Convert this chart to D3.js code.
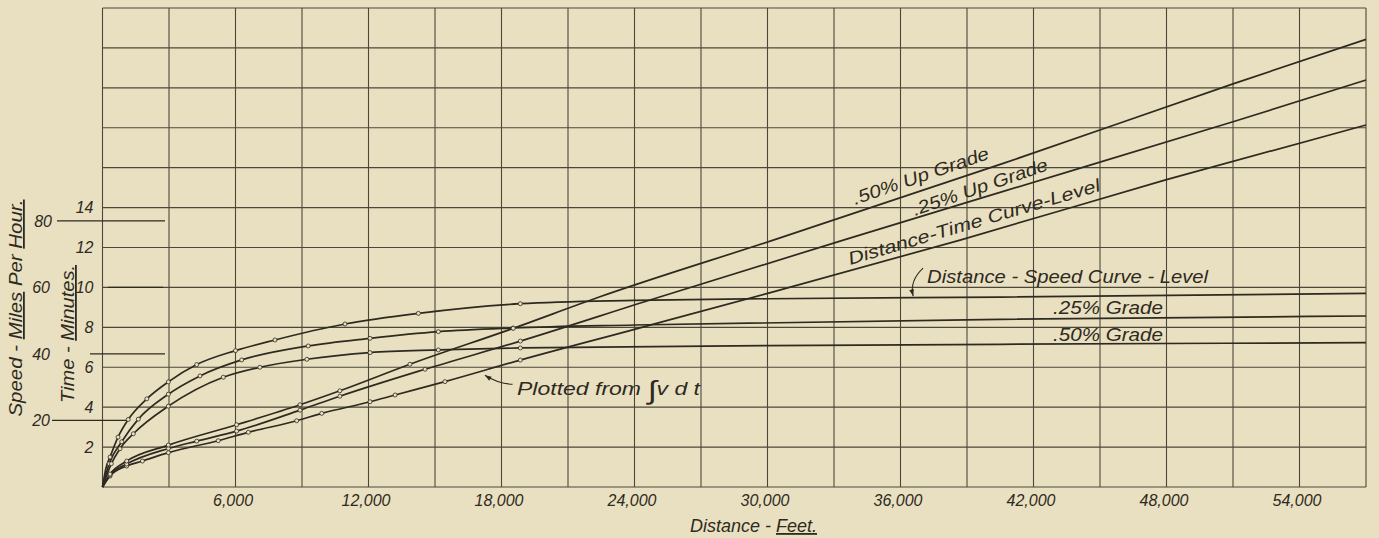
<!DOCTYPE html>
<html><head><meta charset="utf-8">
<script src="https://cdn.jsdelivr.net/npm/d3@7"></script>
<style>
html,body{margin:0;padding:0;background:#e9e0c2;}
svg{display:block;}
text{font-family:"Liberation Sans","DejaVu Sans",sans-serif;font-style:italic;fill:#2e2a20;}
</style></head>
<body>
<svg id="chart" width="1379" height="538"></svg>
<script>
// ---- data (distance in feet, time in minutes, speed in mph) ----
const xTickValues = [6000,12000,18000,24000,30000,36000,42000,48000,54000];
const xTickLabels = ["6,000","12,000","18,000","24,000","30,000","36,000","42,000","48,000","54,000"];
const timeTickValues = [2,4,6,8,10,12,14];
const timeTickLabels = ["2","4","6","8","10","12","14"];
const speedTickValues = [20,40,60,80];
const speedTickLabels = ["20","40","60","80"];

const speedLevel = [[0,0],[150,5.5],[340,9],[700,15],[1160,20.3],[2000,26.5],[2970,31.6],[4250,36.8],[6000,41],[7780,44.2],[10940,49],[14250,52.2],[18850,55.1],[24000,56.1],[30000,56.6],[40500,57.1],[57000,58.2]];
const speed25 = [[0,0],[300,7],[866,13.6],[1615,20.4],[2970,27.9],[4400,33.4],[6280,38.2],[9280,42.4],[12070,44.7],[15150,46.7],[18520,47.8],[24000,48.7],[40500,50.4],[57000,51.4]];
const speed50 = [[0,0],[400,7],[790,11.5],[1390,16],[2970,24.3],[5450,33],[7100,36],[9220,38.4],[12070,40.4],[15150,41.2],[18850,41.8],[30000,42.5],[40500,42.9],[57000,43.4]];

const timeLevel = [[0,0],[340,0.55],[1090,1.05],[1800,1.3],[2970,1.72],[5220,2.32],[6580,2.74],[8760,3.32],[9890,3.69],[12070,4.27],[13200,4.61],[15450,5.28],[18850,6.36],[24000,7.9],[30000,9.7],[38690,12.37],[48000,15.4],[57000,18.14]];
const time25Up = [[0,0],[340,0.6],[1090,1.15],[2970,1.93],[4250,2.3],[6050,2.8],[8910,3.85],[10710,4.55],[14550,5.9],[18850,7.31],[24700,9.37],[33420,12.37],[40600,14.8],[51000,18.3],[57000,20.39]];
const time50Up = [[0,0],[340,0.65],[1090,1.3],[2970,2.1],[6050,3.12],[8910,4.12],[10710,4.82],[13870,6.15],[18530,7.95],[22440,9.53],[30260,12.37],[40600,16.2],[51000,20.2],[57000,22.43]];

const ink = "#2e2a20", gridInk = "#4d473a", paper = "#e9e0c2";

const svg = d3.select("#chart");
const x = d3.scaleLinear().domain([0,57000]).range([102.5,1366]);
const yT = d3.scaleLinear().domain([0,24]).range([487,8]);
const yS = d3.scaleLinear().domain([0,144]).range([487,8]);

// grid
const g = svg.append("g");
g.selectAll(".vg").data(d3.range(0,57001,3000)).join("line")
  .attr("x1",d=>x(d)).attr("x2",d=>x(d)).attr("y1",yT(0)).attr("y2",yT(24))
  .attr("stroke",gridInk).attr("stroke-width",1.1);
g.selectAll(".hg").data(d3.range(0,25,2)).join("line")
  .attr("x1",x(0)).attr("x2",x(57000)).attr("y1",d=>yT(d)).attr("y2",d=>yT(d))
  .attr("stroke",gridInk).attr("stroke-width",1.1);

// x axis
const xa = svg.append("g").attr("transform",`translate(-3,${yT(0)})`)
  .call(d3.axisBottom(x).tickValues(xTickValues).tickSize(0).tickPadding(8)
    .tickFormat((d,i)=>xTickLabels[i]));
xa.select(".domain").remove();
xa.selectAll("text").attr("font-size",16).attr("font-family",null).attr("fill",ink);

// time axis
const ya = svg.append("g").attr("transform",`translate(${x(0)-9},0)`)
  .call(d3.axisLeft(yT).tickValues(timeTickValues).tickSize(0).tickPadding(0)
    .tickFormat((d,i)=>timeTickLabels[i]));
ya.select(".domain").remove();
ya.selectAll("text").attr("font-size",16).attr("font-family",null).attr("fill",ink);

// speed scale ticks
const speedLineSpan = {20:[52,127],40:[90,165],60:[108,163],80:[57,165]};
speedTickValues.forEach((v,i)=>{
  svg.append("line").attr("x1",speedLineSpan[v][0]).attr("x2",speedLineSpan[v][1])
    .attr("y1",yS(v)).attr("y2",yS(v)).attr("stroke",ink).attr("stroke-width",1.3);
  svg.append("text").attr("x",v===80?52:50).attr("y",yS(v)+6).attr("text-anchor","end")
    .attr("font-size",16).text(speedTickLabels[i]);
});

// curves
const line = (ys)=>d3.line().x(d=>x(d[0])).y(d=>ys(d[1])).curve(d3.curveMonotoneX);
const series = [
  [speedLevel,yS],[speed25,yS],[speed50,yS],
  [timeLevel,yT],[time25Up,yT],[time50Up,yT]
];
series.forEach(([data,ys])=>{
  svg.append("path").datum(data).attr("d",line(ys)).attr("fill","none")
    .attr("stroke",ink).attr("stroke-width",1.7);
});
series.forEach(([data,ys])=>{
  svg.append("g").selectAll("circle").data(data.filter(d=>d[0]>200&&d[0]<20000)).join("circle")
    .attr("cx",d=>x(d[0])).attr("cy",d=>ys(d[1])).attr("r",2)
    .attr("fill",paper).attr("stroke",ink).attr("stroke-width",0.8);
});

// curve labels (anchors in data units)
function rotLabel(txt, ft, t, ys, angle, len, size){
  const px = x(ft), py = ys(t);
  return svg.append("text").attr("transform",`translate(${px},${py}) rotate(${angle})`)
    .attr("font-size",size).attr("textLength",len).attr("lengthAdjust","spacingAndGlyphs").text(txt);
}
rotLabel(".50% Up Grade", 33950, 14.13, yT, -19, 143, 18);
rotLabel(".25% Up Grade", 36650, 13.58, yT, -19, 142, 18);
rotLabel("Distance-Time Curve-Level", 33730, 11.12, yT, -16.5, 262, 18);
rotLabel("Distance - Speed Curve - Level", 37200, 61.3, yS, 0, 281, 18);
rotLabel(".25% Grade", 42880, 52, yS, 0, 110, 18);
rotLabel(".50% Grade", 42880, 43.9, yS, 0, 110, 18);
const pl = svg.append("text").attr("x",x(18700)).attr("y",yT(4.61)).attr("font-size",18)
  .attr("textLength",183).attr("lengthAdjust","spacingAndGlyphs");
pl.append("tspan").text("Plotted from ");
pl.append("tspan").attr("font-size",26).attr("dy",4).attr("font-style","normal").text("\u222B");
pl.append("tspan").attr("dy",-4).text("v d t");

// leader arrows
function leader(p0, c, p1){
  svg.append("path").attr("d",`M${p0[0]},${p0[1]} Q${c[0]},${c[1]} ${p1[0]},${p1[1]}`)
    .attr("fill","none").attr("stroke",ink).attr("stroke-width",1.1);
  const a = Math.atan2(p1[1]-c[1], p1[0]-c[0]);
  const L=7, w=0.35;
  svg.append("path").attr("d",`M${p1[0]},${p1[1]} L${p1[0]-L*Math.cos(a-w)},${p1[1]-L*Math.sin(a-w)} L${p1[0]-L*Math.cos(a+w)},${p1[1]-L*Math.sin(a+w)} Z`)
    .attr("fill",ink);
}
leader([x(37020),yS(65.8)],[x(36400),yS(62)],[x(36570),yS(57.4)]);
leader([x(18500),yT(5.15)],[x(17900),yT(5.15)],[x(17250),yT(5.6)]);

// axis titles
const st = svg.append("text").attr("transform","translate(22,308) rotate(-90)")
  .attr("text-anchor","middle").attr("font-size",18).attr("textLength",217).attr("lengthAdjust","spacingAndGlyphs");
st.append("tspan").text("Speed - ");
st.append("tspan").attr("text-decoration","underline").text("Miles");
st.append("tspan").text(" Per ");
st.append("tspan").attr("text-decoration","underline").text("Hour.");

const tt = svg.append("text").attr("transform","translate(74,334) rotate(-90)")
  .attr("text-anchor","middle").attr("font-size",18).attr("textLength",138).attr("lengthAdjust","spacingAndGlyphs");
tt.append("tspan").text("Time - ");
tt.append("tspan").attr("text-decoration","underline").text("Minutes.");

const xt = svg.append("text").attr("x",690).attr("y",532)
  .attr("font-size",18).attr("textLength",127).attr("lengthAdjust","spacingAndGlyphs");
xt.append("tspan").text("Distance - ");
xt.append("tspan").attr("text-decoration","underline").text("Feet.");
</script>
</body></html>
